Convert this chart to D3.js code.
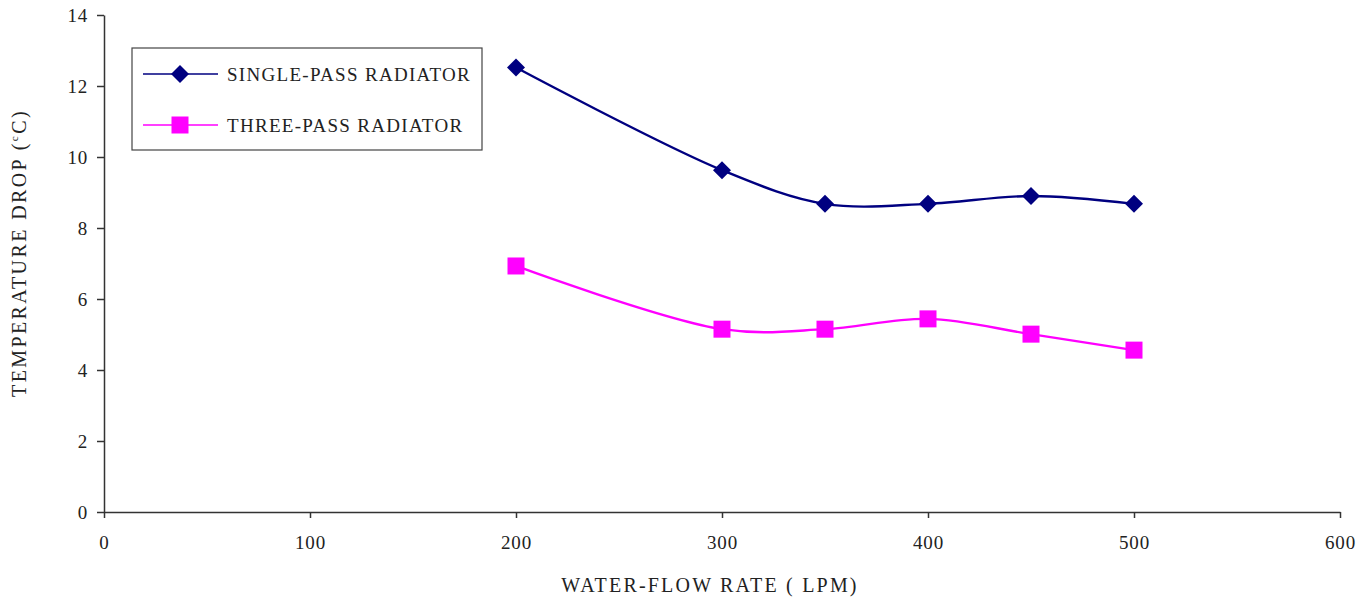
<!DOCTYPE html>
<html>
<head>
<meta charset="utf-8">
<script src="https://cdn.jsdelivr.net/npm/d3@7"></script>
<style>
  body { margin: 0; background: #fff; }
  svg { display: block; font-family: "Liberation Serif", "Times New Roman", serif; }
  .axis path, .axis line { stroke: #333; stroke-width: 1.5px; }
  .axis text { font-size: 19px; fill: #222; letter-spacing: 0.8px; }
</style>
</head>
<body>
<svg id="chart" width="1367" height="601"></svg>
<script>
const FLOW_RATES = [200, 300, 350, 400, 450, 500];
const SINGLE_PASS = [12.52, 9.63, 8.68, 8.68, 8.9, 8.68];
const THREE_PASS = [6.93, 5.15, 5.15, 5.44, 5.01, 4.56];
const X_TICKS = [0, 100, 200, 300, 400, 500, 600];
const Y_TICKS = [0, 2, 4, 6, 8, 10, 12, 14];
const SERIES_NAMES = ["SINGLE-PASS RADIATOR", "THREE-PASS RADIATOR"];

const svg = d3.select("#chart");
const plot = { left: 104, right: 1340, top: 15, bottom: 512 };

const x = d3.scaleLinear().domain([0, 600]).range([plot.left, plot.right]);
const y = d3.scaleLinear().domain([0, 14]).range([plot.bottom, plot.top]);

// axes
svg.append("g")
    .attr("class", "axis")
    .attr("transform", `translate(0,${plot.bottom})`)
    .call(d3.axisBottom(x).tickValues(X_TICKS).tickSize(6).tickSizeOuter(0).tickPadding(18))
    .attr("font-family", "Liberation Serif, serif");

svg.append("g")
    .attr("class", "axis")
    .attr("transform", `translate(${plot.left},0)`)
    .call(d3.axisLeft(y).tickValues(Y_TICKS).tickSize(7).tickSizeOuter(0).tickPadding(9))
    .attr("font-family", "Liberation Serif, serif");

// axis titles
svg.append("text")
    .attr("x", 710)
    .attr("y", 592)
    .attr("text-anchor", "middle")
    .attr("font-size", 20)
    .attr("letter-spacing", 2.2)
    .attr("fill", "#222")
    .text("WATER-FLOW RATE ( LPM)");

const yTitle = svg.append("text")
    .attr("transform", "translate(26,253) rotate(-90)")
    .attr("text-anchor", "middle")
    .attr("font-size", 20)
    .attr("letter-spacing", 2.4)
    .attr("fill", "#222");
yTitle.append("tspan").text("TEMPERATURE DROP (");
yTitle.append("tspan").attr("font-size", 11).attr("dy", -8).text("c");
yTitle.append("tspan").attr("dy", 8).text("C)");

// diamond drawn as a rotated square, square as is
const diamondPath = (r) => `M0,${-r}L${r},0L0,${r}L${-r},0Z`;
const squarePath = (r) => `M${-r},${-r}H${r}V${r}H${-r}Z`;

const series = [
  { name: SERIES_NAMES[0], values: SINGLE_PASS, color: "#000080", marker: diamondPath(9) },
  { name: SERIES_NAMES[1], values: THREE_PASS, color: "#FF00FF", marker: squarePath(8.5) }
];

const line = d3.line()
    .x(d => x(d[0]))
    .y(d => y(d[1]))
    .curve(d3.curveCatmullRom.alpha(0.5));

series.forEach(s => {
  const pts = FLOW_RATES.map((f, i) => [f, s.values[i]]);
  svg.append("path")
      .attr("d", line(pts))
      .attr("fill", "none")
      .attr("stroke", s.color)
      .attr("stroke-width", 2.4);
  svg.append("g").selectAll("path")
      .data(pts)
      .enter()
      .append("path")
      .attr("transform", d => `translate(${x(d[0])},${y(d[1])})`)
      .attr("d", s.marker)
      .attr("fill", s.color);
});

// legend
const legend = svg.append("g").attr("transform", "translate(132,48)");
legend.append("rect")
    .attr("width", 350)
    .attr("height", 102)
    .attr("fill", "#fff")
    .attr("stroke", "#444")
    .attr("stroke-width", 1.2);

const items = legend.selectAll("g.item")
    .data(series)
    .enter()
    .append("g")
    .attr("class", "item")
    .attr("transform", (d, i) => `translate(0,${26 + i * 51})`);
items.append("line")
    .attr("x1", 11).attr("x2", 86)
    .attr("stroke", d => d.color)
    .attr("stroke-width", 1.5);
items.append("path")
    .attr("transform", "translate(48,0)")
    .attr("d", d => d.marker)
    .attr("fill", d => d.color);
items.append("text")
    .attr("x", 95)
    .attr("y", 7)
    .attr("font-size", 19)
    .attr("fill", "#222")
    .attr("letter-spacing", 1.3)
    .text(d => d.name);
</script>
</body>
</html>
